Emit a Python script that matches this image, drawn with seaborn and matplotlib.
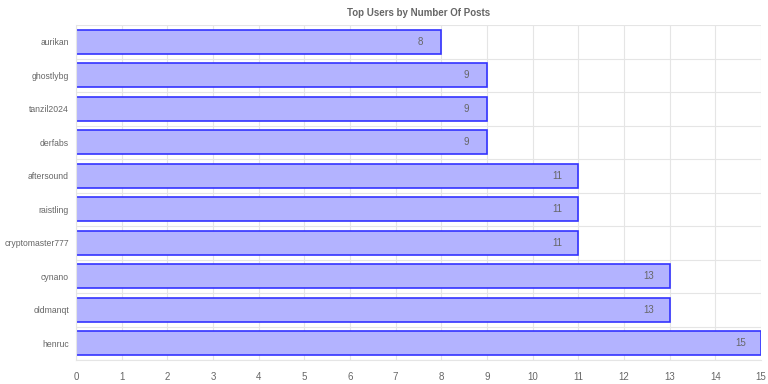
import matplotlib
matplotlib.use("Agg")
import matplotlib.pyplot as plt
import seaborn as sns
import pandas as pd
import numpy as np

users = ["aurikan", "ghostlybg", "tanzil2024", "derfabs", "aftersound",
         "raistling", "cryptomaster777", "cynano", "oldmanqt", "henruc"]
posts = [8, 9, 9, 9, 11, 11, 11, 13, 13, 15]
title = "Top Users by Number Of Posts"

df = pd.DataFrame({"user": users, "posts": posts})

sns.set_theme(style="white")
plt.rcParams['font.family'] = ['Liberation Sans', 'DejaVu Sans']

fig = plt.figure(figsize=(7.68, 3.84), dpi=100)
ax = fig.add_axes([76/768, 1 - 360/384, (761 - 76)/768, (360 - 25)/384])

sns.barplot(data=df, x="posts", y="user", orient="h", ax=ax,
            color=(0.7, 0.7, 1.0), edgecolor="#3333ff", linewidth=1.2,
            width=0.72, saturation=1)

grey = "#666666"
gridc = "#e5e5e5"
for i, v in enumerate(posts):
    ax.text(v - 0.45, i, str(v), ha="center", va="center", fontsize=7, color=grey)

ax.set_xlim(0, 15)
ax.set_ylim(len(users) - 0.5, -0.5)
ax.set_xticks(range(0, 16))
ax.set_yticks(range(len(users)))
ax.set_yticklabels(users)
ax.set_yticks(np.arange(-0.5, len(users), 1.0), minor=True)
ax.set_xlabel("")
ax.set_ylabel("")
ax.set_axisbelow(True)
ax.grid(True, axis="x", which="major", color=gridc, linewidth=0.8)
ax.grid(True, axis="y", which="minor", color=gridc, linewidth=0.8)
ax.grid(False, axis="y", which="major")
ax.tick_params(axis="x", which="major", length=6, color=gridc, labelsize=7, labelcolor=grey, pad=3)
ax.tick_params(axis="y", which="major", length=0, labelsize=6.2, labelcolor=grey, pad=5)
ax.tick_params(axis="y", which="minor", length=6, color=gridc)
for s in ["top", "right"]:
    ax.spines[s].set_visible(False)
ax.spines["left"].set_color(gridc)
ax.spines["bottom"].set_color(gridc)
ax.spines["left"].set_linewidth(0.8)
ax.spines["bottom"].set_linewidth(0.8)

fig.text((76 + 761) / 2 / 768, 1 - 13/384, title, ha="center", va="center",
         fontsize=7, fontweight="bold", color=grey)

fig.savefig("out.png", dpi=100)
